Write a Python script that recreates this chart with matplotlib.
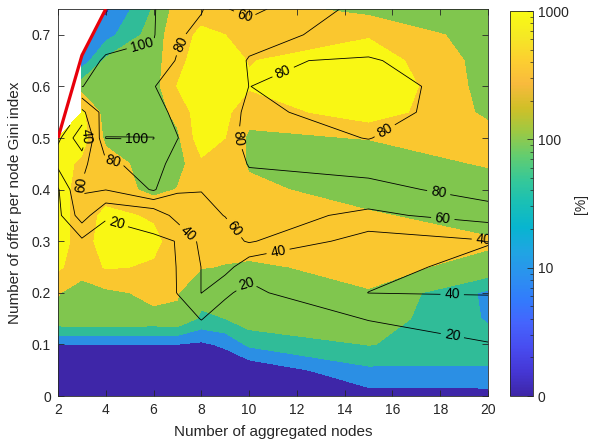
import numpy as np
import matplotlib
matplotlib.use("Agg")
import matplotlib.pyplot as plt
from matplotlib.colors import LinearSegmentedColormap, LogNorm
from matplotlib.cm import ScalarMappable
from matplotlib.ticker import LogLocator, NullFormatter

plt.rcParams["font.family"] = ["Liberation Sans", "DejaVu Sans"]

nan = np.nan

# simulation grid
nodes = [2, 3, 4, 6, 7, 8, 9, 10, 15, 20]
gini = [0.00, 0.05, 0.10, 0.15, 0.20, 0.25, 0.30, 0.35,
        0.40, 0.45, 0.50, 0.55, 0.60, 0.65, 0.70, 0.75]

# filled field: log10 of the ratio in [%], one row per gini value
ratio_log = [
    [0.30, 0.30, 0.30, 0.30, 0.30, 0.30, 0.30, 0.30, 0.80, 0.80],
    [0.30, 0.30, 0.30, 0.30, 0.30, 0.40, 0.50, 0.60, 1.40, 1.45],
    [0.99, 0.99, 0.99, 0.99, 0.99, 0.90, 1.10, 1.60, 2.02, 1.70],
    [2.40, 2.45, 2.45, 2.40, 2.45, 1.90, 2.00, 2.30, 2.30, 1.45],
    [2.52, 2.35, 2.40, 2.60, 2.52, 2.20, 2.30, 2.40, 2.48, 1.40],
    [3.10, 2.65, 3.05, 2.95, 2.80, 2.52, 2.48, 2.45, 2.60, 2.40],
    [3.20, 2.80, 3.20, 3.10, 2.80, 2.70, 2.65, 2.65, 2.70, 2.55],
    [3.20, 2.80, 3.10, 2.95, 2.75, 2.75, 2.75, 2.70, 2.55, 2.30],
    [3.20, 2.80, 2.80, 2.35, 2.52, 2.80, 2.80, 2.60, 2.30, 2.20],
    [3.20, 2.90, 2.70, 2.30, 2.30, 2.90, 2.75, 2.45, 2.20, 2.55],
    [3.15, 3.20, 2.40, 2.25, 2.40, 3.30, 3.00, 2.40, 2.52, 2.70],
    [nan, 3.10, 2.30, 2.25, 2.65, 3.30, 3.10, 2.70, 3.30, 2.40],
    [nan, 2.30, 2.30, 2.30, 3.02, 3.30, 3.20, 3.05, 3.50, 2.30],
    [nan, 1.20, 2.10, 2.30, 2.85, 3.25, 3.15, 2.98, 3.30, 2.30],
    [nan, 1.10, 1.30, 2.25, 2.80, 3.10, 3.00, 2.80, 2.95, 2.25],
    [nan, nan, 0.90, 2.05, 2.70, 2.80, 2.80, 2.70, 2.35, 2.20],
]

# isoline field [%]
share_pct = [
    [2, 2, 2, 2, 2, 3, 3, 3, 3, 5],
    [3, 3, 4, 4, 5, 6, 6, 6, 8, 10],
    [5, 6, 7, 7, 9, 12, 10, 10, 14, 19],
    [7, 9, 10, 10, 14, 20.5, 14, 12, 20.5, 30],
    [9, 11, 12, 12, 20.3, 40.3, 22, 16, 40.2, 41],
    [11, 13, 14, 15, 20.3, 40.3, 48, 26, 35, 45],
    [13, 16, 16, 18, 20.3, 45, 52, 62, 30, 39],
    [15, 50, 21, 25, 48, 55, 60.5, 68, 56, 68],
    [18, 62, 60.5, 82, 62, 60.5, 66, 74, 72, 90],
    [45, 55, 76, 88, 72, 66, 70, 81, 90, 95],
    [65, 25, 100.5, 100.5, 80.5, 68, 70, 88, 79.5, 95],
    [nan, 55, 90, 86, 76, 70, 70, 85, 70, 95],
    [nan, 100.5, 92, 80.5, 74, 70, 68, 80.2, 68, 95],
    [nan, 110, 97, 97, 78, 72, 66, 82, 78, 95],
    [nan, 115, 110, 101, 84, 72, 64, 70, 92, 95],
    [nan, nan, 115, 101, 90, 82, 61, 55, 88, 95],
]
share_levels = [20, 40, 60, 80, 100]

# limit of the feasible region (red)
limit_nodes = [2, 3, 4]
limit_gini = [0.50, 0.66, 0.75]

band_edges = [-1, 1, 1.5, 2, 2.5, 3, 5]
band_colors = ["#3e26a8", "#2b8fe4", "#30bc98", "#80c64e", "#fac72f", "#f9f714"]

label_spots = [
    (4.5, 0.342), (9.9, 0.215), (18.5, 0.115),
    (3.0, 0.5), (7.5, 0.318), (11.2, 0.283), (18.5, 0.196), (19.8, 0.297),
    (2.85, 0.41), (9.5, 0.33), (18.1, 0.34), (9.8, 0.735),
    (4.3, 0.455), (7.2, 0.68), (9.4, 0.5), (11.5, 0.62), (15.6, 0.52), (17.9, 0.385),
    (5.6, 0.665), (5.3, 0.5),
]

parula = LinearSegmentedColormap.from_list("parula", [
    (0.2422, 0.1504, 0.6603), (0.2706, 0.2147, 0.8364), (0.2813, 0.3006, 0.9414),
    (0.2699, 0.3892, 0.9906), (0.1963, 0.4847, 0.9892), (0.1687, 0.5703, 0.9359),
    (0.1248, 0.6459, 0.8883), (0.0297, 0.7082, 0.8163), (0.0964, 0.7500, 0.7120),
    (0.2161, 0.7843, 0.5923), (0.3909, 0.8029, 0.4354), (0.6174, 0.7876, 0.2612),
    (0.8203, 0.7498, 0.1535), (0.9728, 0.7298, 0.2394), (0.9892, 0.8136, 0.1885),
    (0.9597, 0.9135, 0.1423), (0.9769, 0.9839, 0.0805),
])

dark = "#262626"

fig = plt.figure(figsize=(5.9, 4.45), dpi=100)
ax = fig.add_axes([58 / 590, 49 / 445, 430 / 590, 387 / 445])

X, Y = np.meshgrid(nodes, gini)
ax.contourf(X, Y, np.array(ratio_log), levels=band_edges, colors=band_colors,
            corner_mask=True, zorder=1)
ax.fill_between(limit_nodes, limit_gini, 0.75, color="white", lw=0, zorder=1.5)

cs = ax.contour(X, Y, np.array(share_pct), levels=share_levels, colors="k",
                linewidths=0.6, corner_mask=True, zorder=2)
ax.clabel(cs, fmt="%g", fontsize=10, inline=True, inline_spacing=4,
          manual=label_spots)

ax.plot(limit_nodes, limit_gini, color="#e8000b", lw=2.3, zorder=4,
        solid_capstyle="butt")

ax.set_xlim(2, 20)
ax.set_ylim(0, 0.75)
ax.set_xticks(range(2, 21, 2))
ax.set_yticks([0, 0.1, 0.2, 0.3, 0.4, 0.5, 0.6, 0.7])
ax.set_yticklabels(["0", "0.1", "0.2", "0.3", "0.4", "0.5", "0.6", "0.7"])
ax.tick_params(direction="in", top=True, right=True, length=4, width=0.6,
               color=dark, labelcolor=dark, labelsize=10, pad=5)
for s in ax.spines.values():
    s.set_color(dark)
    s.set_linewidth(0.6)
ax.set_xlabel("Number of aggregated nodes", fontsize=11, color=dark, labelpad=6)
ax.set_ylabel("Number of offer per node Gini index", fontsize=11, color=dark,
              labelpad=7)

cax = fig.add_axes([510 / 590, 49 / 445, 23 / 590, 385 / 445])
cb = fig.colorbar(ScalarMappable(norm=LogNorm(1, 1000), cmap=parula), cax=cax)
cb.set_ticks([1, 10, 100, 1000])
cb.set_ticklabels(["0", "10", "100", "1000"])
cax.yaxis.set_minor_locator(LogLocator(base=10, subs=np.arange(2, 10)))
cax.yaxis.set_minor_formatter(NullFormatter())
cax.tick_params(which="major", direction="in", length=4, width=0.6,
                color=dark, labelcolor=dark, labelsize=10)
cax.tick_params(which="minor", direction="in", length=2, width=0.5, color=dark)
cb.outline.set_edgecolor(dark)
cb.outline.set_linewidth(0.6)
cb.set_label("[%]", fontsize=10, color=dark, labelpad=4)

fig.savefig("out.png", dpi=100)
